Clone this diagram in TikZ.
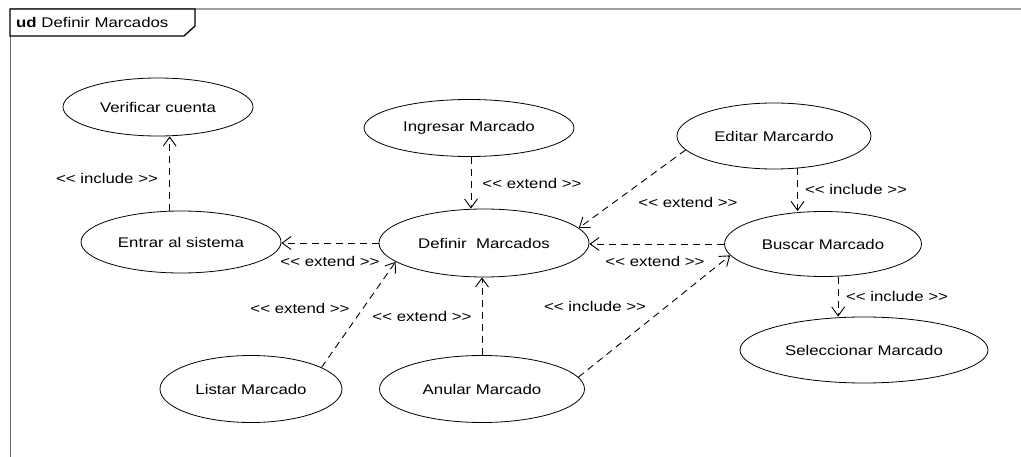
\documentclass[tikz,border=0pt]{standalone}
\usepackage{fontspec}
\setmainfont{Liberation Sans}[FakeStretch=1.2, Ligatures=TeXOff]
\usepackage{tikz}
\usetikzlibrary{shapes.geometric,arrows.meta}
\definecolor{ink}    {HTML}{000000}
\definecolor{rulec}  {HTML}{A0A0A0}
\definecolor{sidec}  {HTML}{6A6A6A}
\tikzset{
  usecase/.style = {ellipse, draw=ink, line width=0.8pt, inner sep=0pt,
                    font=\fontsize{14}{16}\selectfont, text=ink},
  dep/.style     = {draw=ink, line width=0.9pt, dash pattern=on 7pt off 5pt,
                    -{Straight Barb[length=9pt, width=13pt]}},
  stereo/.style  = {font=\fontsize{14}{16}\selectfont, text=ink, inner sep=1pt},
  tab/.style     = {draw=ink, line width=1.3pt, fill=white},
}

\begin{document}
\begin{tikzpicture}[x=1pt, y=-1pt]
  \useasboundingbox (0,0) rectangle (1021,457);

  % frame
  \draw[rulec, line width=1.2pt] (10,9) -- (1021,9);
  \draw[sidec, line width=1pt] (10,9) -- (10,457);
  \draw[tab] (10,9) -- (195,9) -- (195,26) -- (184,36) -- (10,36) -- cycle;
  \node[stereo, anchor=west] (title) at (15,22.5) {\textbf{ud} Definir Marcados};

  % use cases
  \node[usecase, minimum width=190pt, minimum height=58pt] (verificar)   at (158,107) {Verificar cuenta};
  \node[usecase, minimum width=200pt, minimum height=62pt] (entrar)      at (181,242) {Entrar al sistema};
  \node[usecase, minimum width=210pt, minimum height=57pt] (ingresar)    at (469,128) {Ingresar Marcado};
  \node[usecase, minimum width=210pt, minimum height=68pt] (definir)     at (484,243) {Definir~ Marcados};
  \node[usecase, minimum width=194pt, minimum height=66pt] (editar)      at (774,136) {Editar Marcardo};
  \node[usecase, minimum width=197pt, minimum height=65pt] (buscar)      at (823,244) {Buscar Marcado};
  \node[usecase, minimum width=248pt, minimum height=66pt] (seleccionar) at (864,350) {Seleccionar Marcado};
  \node[usecase, minimum width=182pt, minimum height=67pt] (listar)      at (251,389) {Listar Marcado};
  \node[usecase, minimum width=205pt, minimum height=67pt] (anular)      at (482,389) {Anular Marcado};

  % relations
  \draw[dep] (entrar.110) -- (entrar.110 |- verificar.south);
  \draw[dep] (definir.west) -- (definir.west -| entrar.east);
  \draw[dep] (ingresar.-86) -- (ingresar.-86 |- definir.north);
  \draw[dep] (editar.189) -- (definir.9);
  \draw[dep] (buscar.west) -- (buscar.west -| definir.east);
  \draw[dep] (editar.-54) -- (editar.-54 |- buscar.north);
  \draw[dep] (buscar.-65) -- (buscar.-65 |- seleccionar.north);
  \draw[dep] (listar.17) -- (definir.192);
  \draw[dep] (anular.north) -- (anular.north |- definir.south);
  \draw[dep] (anular.7) -- (buscar.187);

  % stereotypes
  \node[stereo] (inc1) at (107,178) {<< include >>};
  \node[stereo] (ext1) at (330,261) {<< extend >>};
  \node[stereo] (ext2) at (532,183) {<< extend >>};
  \node[stereo] (ext3) at (688,202) {<< extend >>};
  \node[stereo] (ext4) at (655,261) {<< extend >>};
  \node[stereo] (inc2) at (856,189) {<< include >>};
  \node[stereo] (inc3) at (897,296) {<< include >>};
  \node[stereo] (ext5) at (300,308) {<< extend >>};
  \node[stereo] (ext6) at (422,316) {<< extend >>};
  \node[stereo] (inc4) at (595,306) {<< include >>};
\end{tikzpicture}
\end{document}
